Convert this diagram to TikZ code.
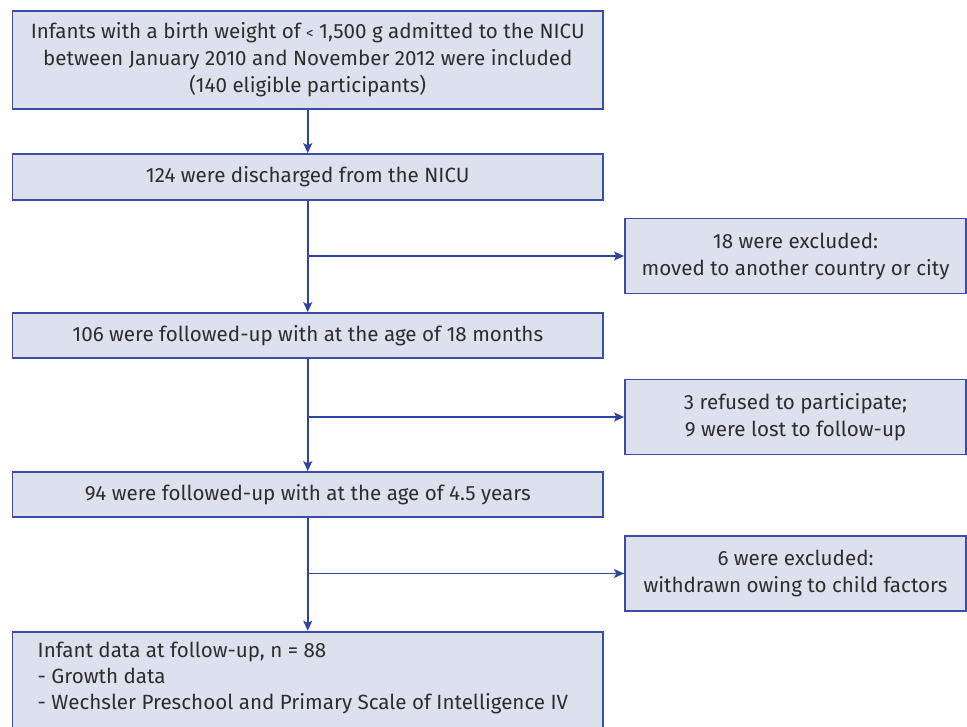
\documentclass[tikz,border=0pt]{standalone}
\usepackage{fontspec}
\setmainfont{Fira Sans}
\usetikzlibrary{arrows.meta}
\definecolor{boxfill}{HTML}{DDE1EE}
\definecolor{boxline}{HTML}{3A4EA6}
\definecolor{arrowline}{HTML}{2E44A2}
\definecolor{txt}{HTML}{2D2D2D}
\tikzset{
  flowbox/.style={draw=boxline, fill=boxfill, line width=1.8pt, inner sep=0pt,
    minimum width=590.5pt, align=center, text=txt,
    font=\fontsize{20.6}{27}\selectfont},
  exbox/.style={flowbox, minimum width=341pt, minimum height=75pt},
  flowarrow/.style={draw=arrowline, line width=1.6pt,
    -{Stealth[length=10pt,width=9pt,inset=2.2pt]}}
}
\begin{document}
\begin{tikzpicture}[x=1pt,y=-1pt]
\clip (0,0) rectangle (967,726);
\fill[white] (0,0) rectangle (967,726);
\node[flowbox, minimum height=98pt] (b1) at (307.75,59.7)
  {Infants with a birth weight of {\fontsize{15}{27}\selectfont<} 1,500 g admitted to the NICU\\
   between January 2010 and November 2012 were included\\
   (140 eligible participants)};
\node[flowbox, minimum height=46pt] (b2) at (307.75,177)
  {124 were discharged from the NICU};
\node[flowbox, minimum height=45pt] (b3) at (307.75,335.5)
  {106 were followed-up with at the age of 18 months};
\node[flowbox, minimum height=45pt] (b4) at (307.75,494.5)
  {94 were followed-up with at the age of 4.5 years};
\node[flowbox, minimum height=115pt, anchor=north] (b5) at (307.75,630.7) {};
\node[anchor=north west, align=left, inner sep=0pt, text=txt,
  font=\fontsize{20.6}{26}\selectfont] (b5t) at (37.5,642)
  {Infant data at follow-up, n = 88\\
   - Growth data\\
   - Wechsler Preschool and Primary Scale of Intelligence IV};
\node[exbox] (e1) at (795.5,256)
  {18 were excluded:\\ moved to another country or city};
\node[exbox] (e2) at (795.5,417)
  {3 refused to participate;\\ 9 were lost to follow-up};
\node[exbox] (e3) at (795.5,573.5)
  {6 were excluded:\\ withdrawn owing to child factors};
\draw[flowarrow] (b1.south) -- (b2.north);
\draw[flowarrow] (b2.south) -- (b3.north);
\draw[flowarrow] (b3.south) -- (b4.north);
\draw[flowarrow] (b4.south) -- (b5.north);
\draw[flowarrow] (b2.south |- e1.west) -- (e1.west);
\draw[flowarrow] (b3.south |- e2.west) -- (e2.west);
\draw[flowarrow] (b4.south |- e3.west) -- (e3.west);
\end{tikzpicture}
\end{document}
